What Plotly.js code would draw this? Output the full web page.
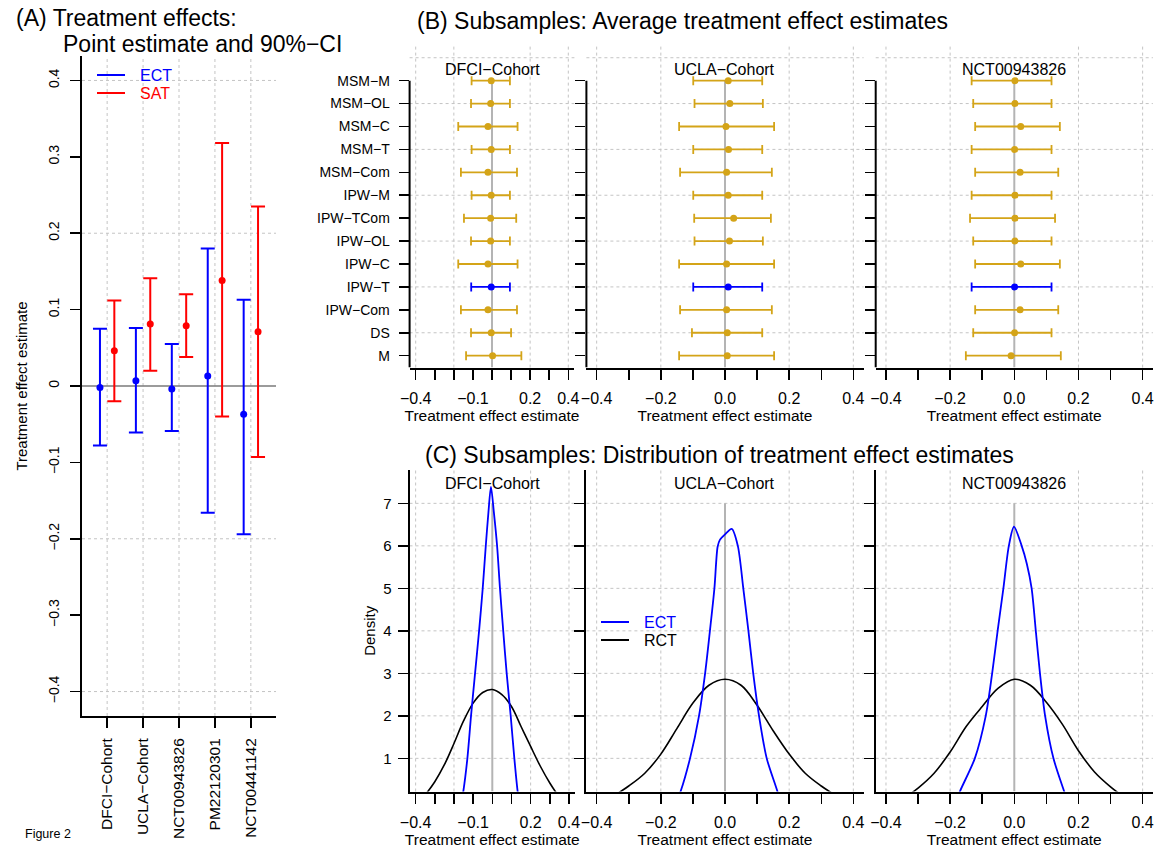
<!DOCTYPE html>
<html><head><meta charset="utf-8">
<script src="https://cdn.plot.ly/plotly-3.0.1.min.js"></script>
<style>html,body{margin:0;padding:0;background:#fff}</style>
</head><body>
<div id="chart" style="width:1166px;height:853px"></div>
<script>
// ---------------- Panel A data ----------------
const cohortsA = ["DFCI−Cohort", "UCLA−Cohort", "NCT00943826", "PM22120301", "NCT00441142"];
const ectPoint = [-0.002, 0.007, -0.004, 0.013, -0.037];
const ectLower = [-0.078, -0.061, -0.059, -0.166, -0.194];
const ectUpper = [0.075, 0.076, 0.055, 0.180, 0.113];
const satPoint = [0.046, 0.081, 0.079, 0.138, 0.071];
const satLower = [-0.020, 0.020, 0.038, -0.040, -0.093];
const satUpper = [0.112, 0.141, 0.120, 0.318, 0.235];

// ---------------- Panel B data ----------------
const methods = ["MSM−M", "MSM−OL", "MSM−C", "MSM−T", "MSM−Com", "IPW−M", "IPW−TCom",
                 "IPW−OL", "IPW−C", "IPW−T", "IPW−Com", "DS", "M"];
const highlightMethod = "IPW−T";
const subCohorts = ["DFCI−Cohort", "UCLA−Cohort", "NCT00943826"];

const dfciPoint = [-0.004, -0.007, -0.021, -0.004, -0.021, -0.004, -0.007, -0.007, -0.021, -0.004, -0.021, -0.004, 0.003];
const dfciLower = [-0.107, -0.110, -0.177, -0.107, -0.163, -0.107, -0.147, -0.110, -0.177, -0.109, -0.163, -0.110, -0.136];
const dfciUpper = [0.094, 0.094, 0.134, 0.094, 0.131, 0.094, 0.127, 0.094, 0.134, 0.094, 0.131, 0.100, 0.154];

const uclaPoint = [0.010, 0.015, 0.003, 0.011, 0.005, 0.010, 0.027, 0.014, 0.005, 0.010, 0.005, 0.007, 0.007];
const uclaLower = [-0.099, -0.095, -0.143, -0.099, -0.140, -0.099, -0.096, -0.095, -0.143, -0.099, -0.140, -0.103, -0.143];
const uclaUpper = [0.116, 0.118, 0.153, 0.116, 0.146, 0.116, 0.143, 0.118, 0.153, 0.116, 0.146, 0.116, 0.153];

const nctPoint = [0.002, 0.002, 0.020, 0.001, 0.018, 0.002, 0.002, 0.002, 0.020, 0.001, 0.018, 0.001, -0.010];
const nctLower = [-0.133, -0.128, -0.122, -0.133, -0.122, -0.133, -0.138, -0.128, -0.122, -0.133, -0.122, -0.128, -0.151];
const nctUpper = [0.116, 0.116, 0.142, 0.116, 0.137, 0.116, 0.127, 0.116, 0.142, 0.116, 0.137, 0.116, 0.145];

// x tick labels (R drops overlapping labels in the narrow panel)
const effTickVals = [-0.4, -0.3, -0.2, -0.1, 0, 0.1, 0.2, 0.3, 0.4];
const effTickTextNarrow = ["−0.4", "", "", "−0.1", "", "", "0.2", "", "0.4"];
const effTickTextWide = ["−0.4", "", "−0.2", "", "0.0", "", "0.2", "", "0.4"];

// ---------------- Panel C data (density curves) ----------------
const densityTicks = [1, 2, 3, 4, 5, 6, 7];
const dfciEctX = [-0.16, -0.151, -0.13, -0.111, -0.09, -0.069, -0.05, -0.034, -0.02, -0.007, 0.008, 0.025, 0.04, 0.057, 0.075, 0.096, 0.115, 0.132, 0.14];
const dfciEctY = [0.0, 0.23, 1.0, 2.0, 3.0, 4.0, 5.0, 6.0, 6.8, 7.39, 6.8, 6.0, 5.0, 4.0, 3.0, 2.0, 1.0, 0.23, 0.0];
const dfciRctX = [-0.36, -0.30, -0.25, -0.20, -0.15, -0.10, -0.05, 0.0, 0.05, 0.10, 0.15, 0.20, 0.25, 0.30, 0.35];
const dfciRctY = [0.08, 0.45, 0.85, 1.35, 1.88, 2.3, 2.55, 2.62, 2.5, 2.22, 1.75, 1.28, 0.82, 0.42, 0.08];

const uclaEctX = [-0.15, -0.138, -0.109, -0.081, -0.062, -0.047, -0.033, -0.023, -0.016, 0.0, 0.021, 0.040, 0.057, 0.073, 0.088, 0.106, 0.130, 0.163, 0.17];
const uclaEctY = [0.0, 0.23, 1.0, 2.0, 3.0, 4.0, 5.0, 5.98, 6.14, 6.27, 6.40, 6.0, 5.0, 4.0, 3.0, 2.0, 1.0, 0.23, 0.0];
const uclaRctX = [-0.35, -0.30, -0.25, -0.20, -0.15, -0.10, -0.05, 0.0, 0.05, 0.10, 0.15, 0.20, 0.25, 0.30, 0.34];
const uclaRctY = [0.1, 0.35, 0.65, 1.1, 1.7, 2.3, 2.72, 2.86, 2.72, 2.25, 1.65, 1.1, 0.65, 0.35, 0.15];

const nctEctX = [-0.18, -0.169, -0.123, -0.089, -0.069, -0.052, -0.034, -0.017, -0.001, 0.023, 0.039, 0.054, 0.067, 0.080, 0.096, 0.122, 0.155, 0.165];
const nctEctY = [0.0, 0.23, 1.0, 2.0, 3.0, 4.0, 5.0, 6.0, 6.45, 6.0, 5.58, 5.0, 4.0, 3.0, 2.0, 1.0, 0.23, 0.0];
const nctRctX = [-0.34, -0.30, -0.25, -0.20, -0.15, -0.10, -0.05, 0.0, 0.05, 0.10, 0.15, 0.20, 0.25, 0.30, 0.34];
const nctRctY = [0.08, 0.3, 0.65, 1.15, 1.75, 2.22, 2.65, 2.86, 2.72, 2.32, 1.8, 1.18, 0.68, 0.33, 0.1];

// ---------------- styling / geometry ----------------
const W = 1166, H = 853;
const FONT = "Liberation Sans, Arial, Helvetica, sans-serif";
const BLUE = "#0000ff", RED = "#ff0000", GOLD = "#d4a418", BLACK = "#000000";
const GRID = "#c4c4c4";
const px = v => v / W;
const py = v => 1 - v / H;
const xd = (a, b) => [px(a), px(b)];
const yd = (top, bottom) => [py(bottom), py(top)];

const effRange = [-0.432, 0.432];
const rowRange = [-0.52, 13.52];
const densRange = [0.22, 7.78];

const traces = [];
const shapes = [];
const annotations = [];

function ebar(pt, lo, hi) {
  return {
    plus: hi.map((h, i) => h - pt[i]),
    minus: pt.map((p, i) => p - lo[i])
  };
}

// ---- Panel A traces
const offA = 0.2;
const eA = ebar(ectPoint, ectLower, ectUpper);
const sA = ebar(satPoint, satLower, satUpper);
traces.push({
  type: "scatter", mode: "markers", xaxis: "x", yaxis: "y", name: "ECT",
  x: cohortsA.map((_, i) => i + 1 - offA), y: ectPoint,
  marker: {color: BLUE, size: 7},
  error_y: {type: "data", symmetric: false, array: eA.plus, arrayminus: eA.minus, color: BLUE, thickness: 2, width: 7},
  showlegend: false, hoverinfo: "skip"
});
traces.push({
  type: "scatter", mode: "markers", xaxis: "x", yaxis: "y", name: "SAT",
  x: cohortsA.map((_, i) => i + 1 + offA), y: satPoint,
  marker: {color: RED, size: 7},
  error_y: {type: "data", symmetric: false, array: sA.plus, arrayminus: sA.minus, color: RED, thickness: 2, width: 7},
  showlegend: false, hoverinfo: "skip"
});

// ---- Panel B traces
const bSets = [
  {pt: dfciPoint, lo: dfciLower, hi: dfciUpper, xa: "x2", ya: "y2"},
  {pt: uclaPoint, lo: uclaLower, hi: uclaUpper, xa: "x3", ya: "y3"},
  {pt: nctPoint, lo: nctLower, hi: nctUpper, xa: "x4", ya: "y4"}
];
bSets.forEach(s => {
  const groups = [
    {keep: m => m !== highlightMethod, color: GOLD},
    {keep: m => m === highlightMethod, color: BLUE}
  ];
  groups.forEach(g => {
    const idx = methods.map((m, i) => i).filter(i => g.keep(methods[i]));
    const pt = idx.map(i => s.pt[i]), lo = idx.map(i => s.lo[i]), hi = idx.map(i => s.hi[i]);
    const e = ebar(pt, lo, hi);
    traces.push({
      type: "scatter", mode: "markers", xaxis: s.xa, yaxis: s.ya,
      x: pt, y: idx.map(i => methods[i]),
      marker: {color: g.color, size: 7},
      error_x: {type: "data", symmetric: false, array: e.plus, arrayminus: e.minus, color: g.color, thickness: 1.8, width: 4.5},
      showlegend: false, hoverinfo: "skip"
    });
  });
});

// ---- Panel C traces
const cSets = [
  {ex: dfciEctX, ey: dfciEctY, rx: dfciRctX, ry: dfciRctY, xa: "x5", ya: "y5"},
  {ex: uclaEctX, ey: uclaEctY, rx: uclaRctX, ry: uclaRctY, xa: "x6", ya: "y6"},
  {ex: nctEctX, ey: nctEctY, rx: nctRctX, ry: nctRctY, xa: "x7", ya: "y7"}
];
cSets.forEach(s => {
  traces.push({type: "scatter", mode: "lines", xaxis: s.xa, yaxis: s.ya, x: s.rx, y: s.ry,
    line: {color: BLACK, width: 1.6, shape: "spline", smoothing: 1.0}, showlegend: false, hoverinfo: "skip"});
  traces.push({type: "scatter", mode: "lines", xaxis: s.xa, yaxis: s.ya, x: s.ex, y: s.ey,
    line: {color: BLUE, width: 1.8, shape: "spline", smoothing: 0.8}, showlegend: false, hoverinfo: "skip"});
});

// ---------------- grid / reference shapes ----------------
function vline(xa, ya, x, y0, y1, color, width, dash, yIsData) {
  shapes.push({type: "line", layer: "below", xref: xa, yref: yIsData ? ya : ya + " domain",
    x0: x, x1: x, y0: y0, y1: y1, line: {color: color, width: width, dash: dash}});
}
function hline(xa, ya, y, color, width, dash) {
  shapes.push({type: "line", layer: "below", xref: xa + " domain", yref: ya,
    x0: 0, x1: 1, y0: y, y1: y, line: {color: color, width: width, dash: dash}});
}
// Panel A
[1, 2, 3, 4, 5].forEach(v => vline("x", "y", v, 0, 1, GRID, 1, "dot", false));
[-0.4, -0.2, 0.2, 0.4].forEach(v => hline("x", "y", v, GRID, 1, "dot"));
hline("x", "y", 0, "#7a7a7a", 1.5, "solid");
// Panel B
[["x2", "y2"], ["x3", "y3"], ["x4", "y4"]].forEach(([xa, ya]) => {
  [-0.4, -0.2, 0.2, 0.4].forEach(v => vline(xa, ya, v, 0, 1, GRID, 1, "dot", false));
  [1, 3, 5, 7, 9, 11, 13].forEach(v => hline(xa, ya, v, GRID, 1, "dot"));
  vline(xa, ya, 0, rowRange[0], 12, "#b4b4b4", 2, "solid", true);
  // left axis line from the top category down to the bottom axis
  shapes.push({type: "line", xref: xa + " domain", yref: ya, x0: 0, x1: 0, y0: rowRange[0], y1: 12,
    line: {color: BLACK, width: 2}});
});
// Panel C
[["x5", "y5"], ["x6", "y6"], ["x7", "y7"]].forEach(([xa, ya]) => {
  [-0.4, -0.2, 0.2, 0.4].forEach(v => vline(xa, ya, v, 0, 1, GRID, 1, "dot", false));
  densityTicks.forEach(v => hline(xa, ya, v, GRID, 1, "dot"));
  vline(xa, ya, 0, densRange[0], 7, "#b4b4b4", 2, "solid", true);
});

// ---------------- legends (drawn like the R legend boxes without frame) ----------------
function legendItem(x0, x1, y, color, label, textColor) {
  shapes.push({type: "line", xref: "paper", yref: "paper", x0: px(x0), x1: px(x1), y0: py(y), y1: py(y),
    line: {color: color, width: 2}});
  annotations.push({xref: "paper", yref: "paper", x: px(x1 + 13), y: py(y), xanchor: "left", yanchor: "middle",
    text: label, showarrow: false, font: {family: FONT, size: 16, color: textColor}});
}
legendItem(97, 125, 75, BLUE, "ECT", BLUE);
legendItem(97, 125, 93, RED, "SAT", RED);
legendItem(601, 629, 622, BLUE, "ECT", BLUE);
legendItem(601, 629, 640, BLACK, "RCT", BLACK);

// ---------------- titles ----------------
function ann(text, x, y, size, xanchor, extra) {
  annotations.push(Object.assign({xref: "paper", yref: "paper", x: px(x), y: py(y), xanchor: xanchor || "center",
    yanchor: "middle", text: text, showarrow: false, font: {family: FONT, size: size, color: BLACK}}, extra || {}));
}
ann("(A) Treatment effects:", 14, 18, 23, "left");
ann("Point estimate and 90%−CI", 61, 44, 23, "left");
ann("(B) Subsamples: Average treatment effect estimates", 682, 21, 23);
ann("(C) Subsamples: Distribution of treatment effect estimates", 719, 455, 23);
ann("Figure 2", 23, 834, 12.5, "left");
// facet titles
const facetX = [["x2", "x5"], ["x3", "x6"], ["x4", "x7"]];
subCohorts.forEach((c, i) => {
  annotations.push({xref: facetX[i][0] + " domain", yref: "paper", x: 0.5, y: py(70), xanchor: "center", yanchor: "middle",
    text: c, showarrow: false, font: {family: FONT, size: 16, color: BLACK}});
  annotations.push({xref: facetX[i][1] + " domain", yref: "paper", x: 0.5, y: py(483), xanchor: "center", yanchor: "middle",
    text: c, showarrow: false, font: {family: FONT, size: 16, color: BLACK}});
});

// ---------------- axes ----------------
const tfont = s => ({family: FONT, size: s, color: BLACK});
const base = {showgrid: false, zeroline: false, showline: true, linecolor: BLACK, linewidth: 2,
  ticks: "outside", ticklen: 10, tickwidth: 1.5, tickcolor: BLACK, fixedrange: true, automargin: false};
const xEff = (dom, text, anchor) => Object.assign({}, base, {domain: dom, range: effRange, tickmode: "array",
  tickvals: effTickVals, ticktext: text, tickangle: 0, tickfont: tfont(16), anchor: anchor, ticklabelstandoff: 5,
  title: {text: "Treatment effect estimate", font: tfont(15.5), standoff: 2}});

const layout = {
  width: W, height: H, margin: {l: 0, r: 0, t: 0, b: 0},
  paper_bgcolor: "#fff", plot_bgcolor: "rgba(0,0,0,0)", showlegend: false,
  font: {family: FONT, color: BLACK},
  shapes: shapes, annotations: annotations,
  // Panel A
  xaxis: Object.assign({}, base, {domain: xd(82, 276), range: [0.3, 5.7], tickmode: "array",
    tickvals: [1, 2, 3, 4, 5], ticktext: cohortsA, tickangle: -90, tickfont: tfont(15.5), anchor: "y", ticklabelstandoff: 4}),
  yaxis: Object.assign({}, base, {domain: yd(56, 716), range: [-0.432, 0.432], tick0: 0, dtick: 0.1,
    tickangle: -90, tickfont: tfont(14), anchor: "x", ticklabelstandoff: 5,
    title: {text: "Treatment effect estimate", font: tfont(15), standoff: 15}}),
  // Panel B
  xaxis2: xEff(xd(409.6, 574.4), effTickTextNarrow, "y2"),
  yaxis2: Object.assign({}, base, {domain: yd(45.8, 367.6), type: "category", categoryorder: "array",
    categoryarray: methods.slice().reverse(), range: rowRange, showline: false, tickfont: tfont(14), anchor: "x2",
    ticklabelstandoff: 6}),
  xaxis3: xEff(xd(586.4, 863.6), effTickTextWide, "y3"),
  yaxis3: Object.assign({}, base, {domain: yd(45.8, 367.6), type: "category", categoryorder: "array",
    categoryarray: methods.slice().reverse(), range: rowRange, showline: false, showticklabels: false, anchor: "x3"}),
  xaxis4: xEff(xd(875.7, 1152.9), effTickTextWide, "y4"),
  yaxis4: Object.assign({}, base, {domain: yd(45.8, 367.6), type: "category", categoryorder: "array",
    categoryarray: methods.slice().reverse(), range: rowRange, showline: false, showticklabels: false, anchor: "x4"}),
  // Panel C
  xaxis5: xEff(xd(409.5, 575.1), effTickTextNarrow, "y5"),
  yaxis5: Object.assign({}, base, {domain: yd(470.2, 791.5), range: densRange, tickmode: "array", tickvals: densityTicks,
    tickfont: tfont(15), anchor: "x5", ticklabelstandoff: 3, title: {text: "Density", font: tfont(15), standoff: 4}}),
  xaxis6: xEff(xd(586.4, 863.6), effTickTextWide, "y6"),
  yaxis6: Object.assign({}, base, {domain: yd(470.2, 791.5), range: densRange, tickmode: "array", tickvals: densityTicks,
    showticklabels: false, anchor: "x6"}),
  xaxis7: xEff(xd(875.7, 1152.9), effTickTextWide, "y7"),
  yaxis7: Object.assign({}, base, {domain: yd(470.2, 791.5), range: densRange, tickmode: "array", tickvals: densityTicks,
    showticklabels: false, anchor: "x7"})
};

Plotly.newPlot("chart", traces, layout, {displayModeBar: false, staticPlot: true});
</script>
</body></html>
